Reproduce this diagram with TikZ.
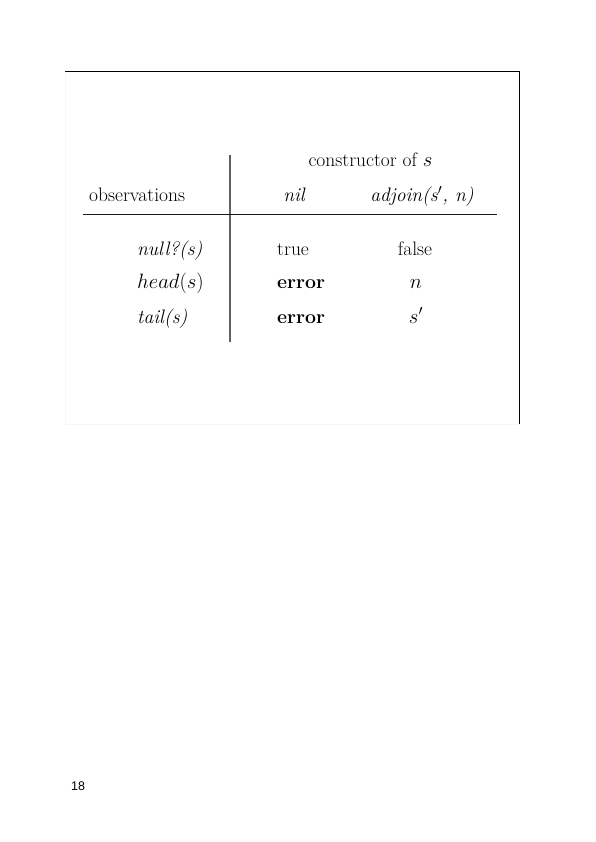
\documentclass[tikz,border=0pt]{standalone}
\usepackage{fontspec}
\newfontfamily\arialfont{Liberation Sans}
\begin{document}
\begin{tikzpicture}[x=1pt,y=-1pt,
  txt/.style={inner sep=0pt,font=\fontsize{19.5}{23}\selectfont},
  frameline/.style={line width=1.1pt,black},
  vrule/.style={line width=2pt,black!62},
  hrule/.style={line width=1.6pt,black!90}]
\useasboundingbox (0,0) rectangle (596,842);
\fill[white] (0,0) rectangle (596,842);
% frame
\coordinate (tl) at (65,71.7);
\coordinate (tr) at (519.3,71.7);
\coordinate (br) at (519.3,424);
\coordinate (bl) at (65,424);
\draw[black!4,line width=0.8pt] (tl) -- (bl) -- (br);
\draw[frameline] (tl) -- (tr) -- (br);
% table rules
\coordinate (vt) at (230,155);
\coordinate (vb) at (230,342);
\coordinate (hl) at (83,214.5);
\coordinate (hr) at (497,214.5);
\draw[vrule] (vt) -- (vb);
\draw[hrule] (hl) -- (hr);
% header
\node[txt,anchor=base] (cons) at (370.5,167) {constructor of $s$};
\node[txt,anchor=base west] (obs) at (89,202) {observations};
\node[txt,anchor=base] (nil) at (294.5,202) {\textit{nil}};
\node[txt,anchor=base] (adj) at (422,202) {\textit{adjoin(s}$'$\textit{, n)}};
% rows
\node[txt,anchor=base west] (r1) at (137,255) {\textit{null?(s)}};
\node[txt,anchor=base west] (r2) at (137,288) {$head(s)$};
\node[txt,anchor=base west] (r3) at (137,323) {\textit{tail(s)}};
\node[txt,anchor=base west] (c11) at (277,255) {true};
\node[txt,anchor=base west] (c21) at (277,288) {\textbf{error}};
\node[txt,anchor=base west] (c31) at (277,323) {\textbf{error}};
\node[txt,anchor=base] (c12) at (415,255) {false};
\node[txt,anchor=base] (c22) at (416,288) {$n$};
\node[txt,anchor=base] (c32) at (416,323) {$s'$};
% page number
\node[inner sep=0pt,anchor=base west,font=\arialfont\fontsize{12.5}{14}\selectfont] (pg) at (71,790.5) {18};
\end{tikzpicture}
\end{document}
